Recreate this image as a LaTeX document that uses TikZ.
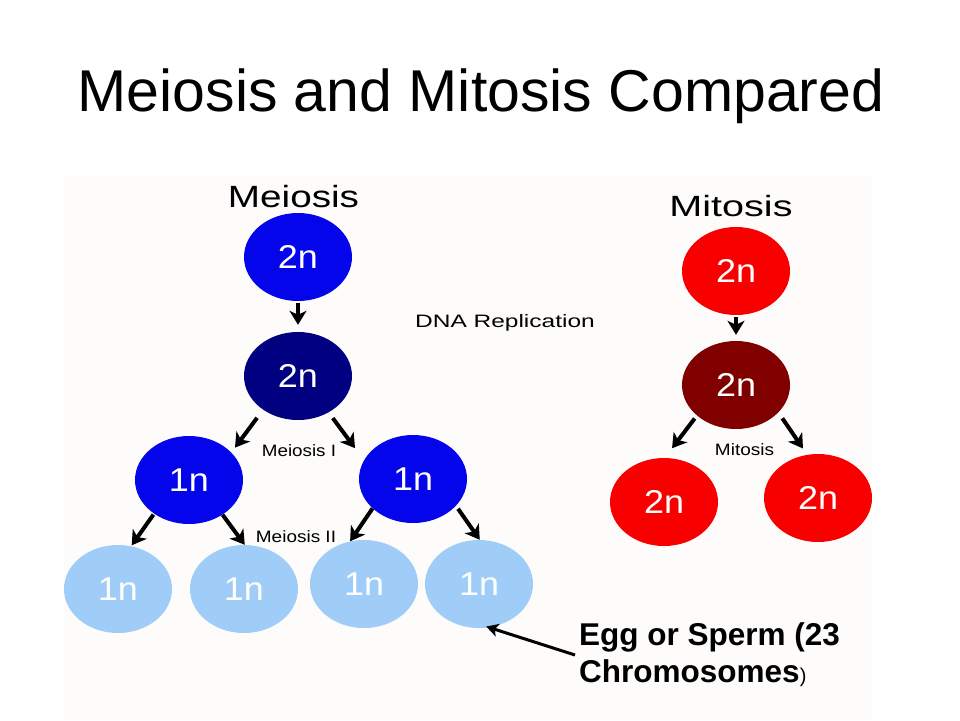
\documentclass[tikz,border=0pt]{standalone}
\usepackage{fontspec}
\setmainfont{Liberation Sans}
\usepackage{graphicx}
\usetikzlibrary{shapes.geometric,arrows.meta}
\definecolor{panel}{RGB}{253,252,251}
\definecolor{cblue}{RGB}{5,5,235}
\definecolor{cnavy}{RGB}{0,0,128}
\definecolor{clight}{RGB}{160,205,247}
\definecolor{cred}{RGB}{248,0,0}
\definecolor{cdred}{RGB}{128,0,0}
\newcommand\fsz[1]{\fontsize{#1pt}{#1pt}\selectfont}
\newcommand\cellt[1]{\scalebox{1.09}[1]{#1}}
\begin{document}
\begin{tikzpicture}[x=1pt,y=-1pt,
  cell/.style={ellipse, minimum width=108pt, minimum height=88pt, inner sep=0pt, text=white, font=\fsz{33}},
  arr/.style={line width=4pt, -{Stealth[length=14pt,width=17pt,inset=4pt]}},
  lbl/.style={inner sep=0pt, anchor=base},
]
\useasboundingbox (0,0) rectangle (960,720);
\fill[white] (0,0) rectangle (960,720);
\fill[panel] (64,176) rectangle (872,720);

\node[lbl, font=\fsz{59}] (title) at (481,111) {Meiosis and Mitosis Compared};

% Meiosis
\node[lbl, font=\fsz{30.7}] (meiosislbl) at (293.5,207) {\scalebox{1.26}[1]{Meiosis}};
\node[cell, fill=cblue] (m1) at (298,257) {\cellt{2n}};
\node[cell, fill=cnavy] (m2) at (298,376) {\cellt{2n}};
\node[cell, fill=cblue] (h1) at (189,480) {\cellt{1n}};
\node[cell, fill=cblue] (h2) at (413,479) {\cellt{1n}};
\node[cell, fill=clight] (g1) at (118,589) {\cellt{1n}};
\node[cell, fill=clight] (g2) at (244,589) {\cellt{1n}};
\node[cell, fill=clight] (g3) at (364,584) {\cellt{1n}};
\node[cell, fill=clight] (g4) at (479,584) {\cellt{1n}};

\node[lbl, font=\fsz{18}] (dna) at (505,327) {\scalebox{1.36}[1]{DNA Replication}};
\node[lbl, font=\fsz{16.5}] (mi1) at (299,456) {\scalebox{1.14}[1]{Meiosis I}};
\node[lbl, font=\fsz{16.5}] (mi2) at (296,542) {\scalebox{1.15}[1]{Meiosis II}};

\draw[arr, shorten <=2pt, shorten >=7pt] (m1.south) -- (m2.north);
\draw[arr, shorten <=10pt, shorten >=6pt] (m2.-136) -- (h1.33);
\draw[arr, shorten <=7pt, shorten >=15pt] (m2.-50) -- (h2.159);
\draw[arr, shorten <=1pt, shorten >=1pt] (h1.-136) -- (g1.73);
\draw[arr] (h1.-46) -- (g2.89);
\draw[arr] (h2.-144) -- (g3.108);
\draw[arr, shorten <=3.5pt] (h2.-32) -- (g4.89);

% Mitosis
\node[lbl, font=\fsz{29.3}] (mitosislbl) at (731,216) {\scalebox{1.35}[1]{Mitosis}};
\node[cell, fill=cred] (t1) at (736,271) {\cellt{2n}};
\node[cell, fill=cdred] (t2) at (736,385) {\cellt{2n}};
\node[cell, fill=cred] (t3) at (664,502) {\cellt{2n}};
\node[cell, fill=cred] (t4) at (818,498) {\cellt{2n}};
\node[lbl, font=\fsz{16.5}] (mit) at (744.5,455) {\scalebox{1.15}[1]{Mitosis}};

\draw[arr, shorten <=2pt, shorten >=6pt] (t1.south) -- (t2.north);
\draw[arr, shorten <=3.7pt, shorten >=12pt] (t2.-142) -- (t3.89);
\draw[arr, shorten <=7pt, shorten >=7.5pt] (t2.-33) -- (t4.104);

% Egg label
\node[lbl, anchor=base west, font=\bfseries\fsz{31.5}] (egg1) at (579,645) {Egg or Sperm (23};
\node[lbl, anchor=base west, font=\bfseries\fsz{31.5}] (egg2) at (579,682) {Chromosomes{\mdseries\fsz{20})}};
\coordinate (eggtail) at (575,655);
\draw[line width=3pt, -{Stealth[length=12pt,width=13pt,inset=3pt]}, shorten >=-3pt] (eggtail) -- (g4.-77);
\end{tikzpicture}
\end{document}
